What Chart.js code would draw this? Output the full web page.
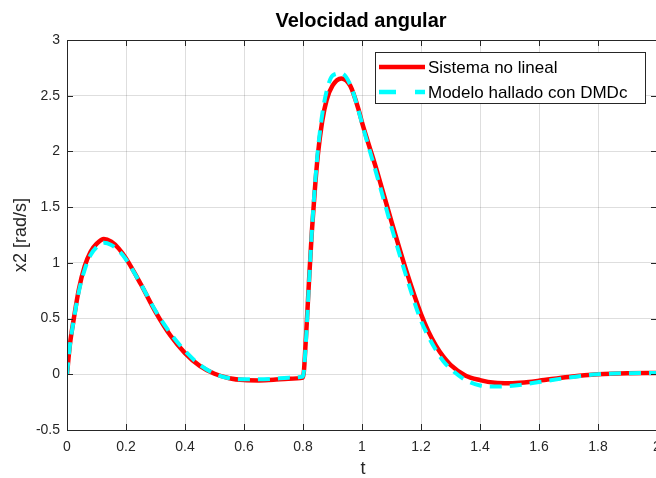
<!DOCTYPE html>
<html>
<head>
<meta charset="utf-8">
<script src="https://cdn.jsdelivr.net/npm/chart.js@4"></script>
<style>
  html, body { margin: 0; padding: 0; background: #fff; overflow: hidden; }
  #wrap { width: 700px; height: 478px; }
</style>
</head>
<body>
<div id="wrap"><canvas id="velChart" width="700" height="478"></canvas></div>
<script>
// tiempo
const t = [0, 0.01, 0.025, 0.04, 0.06, 0.08, 0.1, 0.125, 0.15, 0.175, 0.2, 0.25, 0.3, 0.35, 0.4, 0.45, 0.5,
  0.55, 0.6, 0.65, 0.7, 0.75, 0.8, 0.81, 0.82, 0.83, 0.84, 0.85, 0.865, 0.88, 0.9, 0.93, 0.96, 0.99, 1.0,
  1.05, 1.1, 1.15, 1.2, 1.225, 1.25, 1.275, 1.3, 1.35, 1.4, 1.45, 1.5, 1.55, 1.6, 1.7, 1.8, 1.9, 2.0];
// Sistema no lineal
const xSistema = [0, 0.27, 0.53, 0.76, 0.97, 1.10, 1.17, 1.215, 1.19, 1.13, 1.04, 0.81, 0.56, 0.35, 0.19, 0.075, 0.005,
  -0.035, -0.052, -0.055, -0.05, -0.04, -0.03, 0.33, 0.82, 1.28, 1.65, 1.96, 2.27, 2.46, 2.59, 2.655, 2.59, 2.36, 2.26,
  1.83, 1.37, 0.93, 0.54, 0.385, 0.26, 0.16, 0.085, -0.01, -0.052, -0.076, -0.08, -0.073, -0.058, -0.024, 0.0, 0.01, 0.012];
// Modelo hallado con DMDc
const xModelo = [0, 0.26, 0.52, 0.74, 0.94, 1.07, 1.14, 1.18, 1.16, 1.11, 1.03, 0.81, 0.57, 0.37, 0.21, 0.085, 0.005,
  -0.035, -0.045, -0.045, -0.04, -0.03, -0.02, 0.30, 0.80, 1.28, 1.68, 2.0, 2.33, 2.54, 2.68, 2.70, 2.60, 2.35, 2.25,
  1.79, 1.32, 0.88, 0.48, 0.34, 0.22, 0.12, 0.05, -0.05, -0.10, -0.11, -0.105, -0.09, -0.07, -0.03, 0.0, 0.01, 0.012];
const xTicks = [0, 0.2, 0.4, 0.6, 0.8, 1, 1.2, 1.4, 1.6, 1.8, 2];
const yTicks = [-0.5, 0, 0.5, 1, 1.5, 2, 2.5, 3];

const FONT = "'Liberation Sans', Arial, Helvetica, sans-serif";
const AXC = '#262626';

const matlabDecor = {
  id: 'matlabDecor',
  afterDraw(chart) {
    const c = chart.ctx, a = chart.chartArea;
    const sx = chart.scales.x, sy = chart.scales.y;
    c.save();
    // caja
    c.strokeStyle = AXC;
    c.lineWidth = 1;
    c.strokeRect(a.left + 0.5, a.top + 0.5, a.right - a.left, a.bottom - a.top);
    // marcas hacia dentro
    c.beginPath();
    xTicks.forEach(v => {
      const px = Math.round(sx.getPixelForValue(v)) + 0.5;
      c.moveTo(px, a.bottom); c.lineTo(px, a.bottom - 6);
      c.moveTo(px, a.top); c.lineTo(px, a.top + 6);
    });
    yTicks.forEach(v => {
      const py = Math.round(sy.getPixelForValue(v)) + 0.5;
      c.moveTo(a.left, py); c.lineTo(a.left + 6, py);
      c.moveTo(a.right, py); c.lineTo(a.right - 6, py);
    });
    c.stroke();

    // titulo
    c.fillStyle = '#000';
    c.font = 'bold 20px ' + FONT;
    c.textAlign = 'center';
    c.textBaseline = 'middle';
    c.fillText('Velocidad angular', 361, 21);

    // etiquetas de ejes
    c.fillStyle = AXC;
    c.font = '18px ' + FONT;
    c.fillText('t', 363, 469);
    c.save();
    c.translate(21, 235);
    c.rotate(-Math.PI / 2);
    c.fillText('x2 [rad/s]', 0, 0);
    c.restore();

    // leyenda
    const lx = 375, ly = 52, lw = 270, lh = 51;
    c.fillStyle = '#fff';
    c.fillRect(lx, ly, lw, lh);
    c.strokeStyle = AXC;
    c.lineWidth = 1;
    c.strokeRect(lx + 0.5, ly + 0.5, lw, lh);
    c.lineWidth = 4.5;
    c.strokeStyle = '#ff0000';
    c.beginPath(); c.moveTo(379, 67); c.lineTo(425, 67); c.stroke();
    c.strokeStyle = '#00ffff';
    c.setLineDash([17, 19]);
    c.beginPath(); c.moveTo(379, 92); c.lineTo(425, 92); c.stroke();
    c.setLineDash([]);
    c.fillStyle = '#000';
    c.font = '17px ' + FONT;
    c.textAlign = 'left';
    c.fillText('Sistema no lineal', 428, 68);
    c.fillText('Modelo hallado con DMDc', 428, 93);
    c.restore();
  }
};

const ctx = document.getElementById('velChart').getContext('2d');
const velChart = new Chart(ctx, {
  type: 'line',
  data: {
    datasets: [{
      label: 'Sistema no lineal',
      data: t.map((v, i) => ({ x: v, y: xSistema[i] })),
      borderColor: '#ff0000',
      borderWidth: 4.5,
      pointRadius: 0,
      cubicInterpolationMode: 'monotone',
      order: 2
    }, {
      label: 'Modelo hallado con DMDc',
      data: t.map((v, i) => ({ x: v, y: xModelo[i] })),
      borderColor: '#00ffff',
      borderWidth: 4,
      borderDash: [12, 8],
      pointRadius: 0,
      cubicInterpolationMode: 'monotone',
      order: 1
    }]
  },
  options: {
    responsive: false,
    animation: false,
    layout: { padding: { left: 0, top: 40, right: 43, bottom: 0 } },
    plugins: { legend: { display: false }, tooltip: { enabled: false } },
    scales: {
      x: {
        type: 'linear', min: 0, max: 2,
        afterFit(s) { s.height = 48; },
        afterBuildTicks(s) { s.ticks = xTicks.map(v => ({ value: v })); },
        grid: { color: 'rgba(0,0,0,0.13)', drawTicks: false },
        border: { color: AXC },
        ticks: { padding: 9, color: AXC, font: { family: FONT, size: 14 }, maxRotation: 0,
                 callback: v => String(v) }
      },
      y: {
        min: -0.5, max: 3,
        afterFit(s) { s.width = 67; },
        afterBuildTicks(s) { s.ticks = yTicks.map(v => ({ value: v })); },
        grid: { color: 'rgba(0,0,0,0.13)', drawTicks: false },
        border: { color: AXC },
        ticks: { padding: 7, color: AXC, font: { family: FONT, size: 14 }, callback: v => String(v) }
      }
    }
  },
  plugins: [matlabDecor]
});
</script>
</body>
</html>
